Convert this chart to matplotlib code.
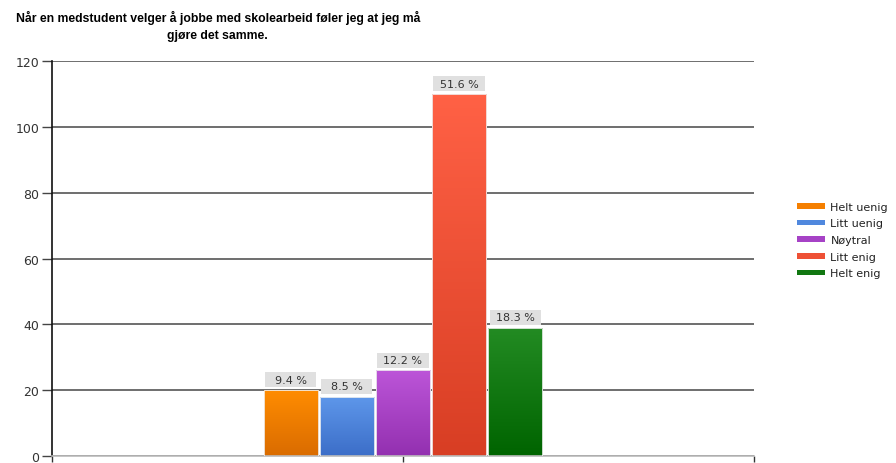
import numpy as np
import matplotlib.pyplot as plt
from matplotlib.patches import Patch, Rectangle
from matplotlib.colors import LinearSegmentedColormap

plt.rcParams['font.family'] = ['Liberation Sans', 'DejaVu Sans']

# Data
categories = ['Helt uenig', 'Litt uenig', 'Nøytral', 'Litt enig', 'Helt enig']
counts = [20, 18, 26, 110, 39]
percent_labels = ['9.4 %', '8.5 %', '12.2 %', '51.6 %', '18.3 %']
top_colors = ['#FF8C00', '#5E97EA', '#BC55D8', '#FF6145', '#238B23']
bottom_colors = ['#DA6C00', '#3C6EC8', '#9330B0', '#D83E24', '#006400']
legend_colors = ['#F57F00', '#5088DE', '#A642C6', '#EE5035', '#117711']
yticks = [0, 20, 40, 60, 80, 100, 120]

fig = plt.figure(figsize=(8.96, 4.64), dpi=100)
ax = fig.add_axes([0.058, 0.015, 0.7835, 0.851])

slot = 0.08
width = 0.077
offsets = (np.arange(len(categories)) - 2) * slot

ax.set_xlim(-0.5, 0.5)
ax.set_ylim(0, 120)

bars = ax.bar(offsets, counts, width=width, color='none', edgecolor='#f0f0f0',
              linewidth=0.6, zorder=3)

# gradient fill for each bar
for bar, c1, c2 in zip(bars, top_colors, bottom_colors):
    cmap = LinearSegmentedColormap.from_list('g', [c2, c1])
    x0 = bar.get_x()
    h = bar.get_height()
    grad = np.linspace(0, 1, 100).reshape(-1, 1)
    im = ax.imshow(grad, cmap=cmap, aspect='auto', origin='lower',
                   extent=[x0, x0 + bar.get_width(), 0, h], zorder=2)
    im.set_clip_path(bar)

# value labels with grey boxes
box_h = 4.5
gap = 0.9
for bar, lab in zip(bars, percent_labels):
    bw = bar.get_width() * 0.95
    xc = bar.get_x() + bar.get_width() / 2
    y0 = bar.get_height() + gap
    ax.add_patch(Rectangle((xc - bw / 2, y0), bw, box_h, facecolor='#e0e0e0',
                           edgecolor='none', zorder=4))
    ax.text(xc, y0 + box_h / 2, lab, ha='center', va='center', fontsize=8,
            family='DejaVu Sans', color='#333333', zorder=5)

# axes styling
ax.set_yticks(yticks)
ax.set_yticklabels([str(t) for t in yticks], fontsize=9, family='DejaVu Sans',
                   color='#333333')
ax.tick_params(axis='y', length=7, width=1, color='#444444', pad=2)
ax.set_xticks([-0.5, 0, 0.5])
ax.set_xticklabels([])
ax.tick_params(axis='x', length=4, width=1, color='#333333', direction='out')
ax.grid(axis='y', color='#555555', linewidth=1.2, zorder=0)
ax.set_axisbelow(True)
for s in ['top', 'right']:
    ax.spines[s].set_visible(False)
ax.spines['left'].set_color('#111111')
ax.spines['left'].set_linewidth(1.2)
ax.spines['bottom'].set_color('#bbbbbb')
ax.spines['bottom'].set_linewidth(1.2)

# title
title = 'Når en medstudent velger å jobbe med skolearbeid føler jeg at jeg må\ngjøre det samme.'
fig.text(0.243, 0.977, title, ha='center', va='top', fontsize=8.8,
         fontweight='bold', linespacing=1.6)

# legend
handles = [Patch(facecolor=c, edgecolor='none') for c in legend_colors]
fig.legend(handles, categories, loc='upper left', bbox_to_anchor=(0.889, 0.563),
           frameon=False, prop={'family': 'DejaVu Sans', 'size': 8},
           labelcolor='#222222', handlelength=2.6, handleheight=0.4,
           handletextpad=0.45, labelspacing=0.6, borderaxespad=0, borderpad=0)

fig.savefig('out.png', dpi=100)
